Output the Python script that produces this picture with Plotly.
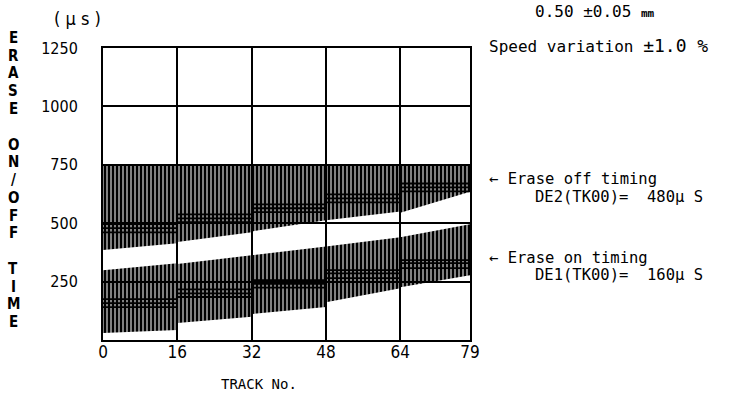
import plotly.graph_objects as go

# ---- data ----
track_ticks = [0, 16, 32, 48, 64, 79]
y_ticks = [250, 500, 750, 1000, 1250]
zone_start = [0, 16, 32, 48, 64]
zone_end = [16, 32, 48, 64, 79]

# Erase-off timing band (upper hatched region), µs
off_top_start = [750, 750, 750, 750, 750]
off_top_end = [750, 750, 750, 750, 750]
off_bot_start = [385, 419, 465, 513, 545]
off_bot_end = [414, 461, 513, 550, 635]
off_hi = [496, 538, 581, 623, 670]
off_mid = [479, 521, 564, 606, 653]
off_lo = [461, 504, 547, 589, 636]

# Erase-on timing band (lower hatched region), µs
on_top_start = [299, 325, 363, 400, 440]
on_top_end = [329, 363, 400, 440, 495]
on_bot_start = [30, 73, 111, 162, 226]
on_bot_end = [43, 100, 141, 222, 277]
on_hi = [175, 217, 256, 299, 342]
on_mid = [158, 200, 240, 285, 329]
on_lo = [141, 184, 224, 265, 308]

axis_letters = ["E", "R", "A", "S", "E", "", "O", "N", "/", "O", "F", "F", "", "T", "I", "M", "E"]

NARROW = "Liberation Sans Narrow, DejaVu Sans Condensed, Arial Narrow, sans-serif"
MONO = "DejaVu Sans Mono, Liberation Mono, monospace"

W, H = 737, 396
L, R, T, B = 103, 470, 48, 340


def px(x):
    return (x - L) / (R - L)


def py(y):
    return (B - y) / (B - T)


def polygons(s, e, ts, te, bs, be):
    xs, ys = [], []
    for a, b, t1, t2, b1, b2 in zip(s, e, ts, te, bs, be):
        xs += [a, b, b, a, a, None]
        ys += [t1, t2, b2, b1, t1, None]
    return xs, ys


def segments(s, e, v):
    xs, ys = [], []
    for a, b, c in zip(s, e, v):
        xs += [a, b, None]
        ys += [c, c, None]
    return xs, ys


fig = go.Figure()

hatch = dict(shape="|", size=4, solidity=0.75, fgcolor="black", fgopacity=1,
             bgcolor="rgba(0,0,0,0)")

for ts, te, bs, be in [(off_top_start, off_top_end, off_bot_start, off_bot_end),
                       (on_top_start, on_top_end, on_bot_start, on_bot_end)]:
    xs, ys = polygons(zone_start, zone_end, ts, te, bs, be)
    fig.add_trace(go.Scatter(x=xs, y=ys, mode="lines", fill="toself",
                             fillcolor="rgba(0,0,0,0)", fillpattern=hatch,
                             line=dict(width=0, color="black"),
                             hoverinfo="skip", showlegend=False))

for series in [off_hi, off_mid, off_lo, on_hi, on_mid, on_lo]:
    xs, ys = segments(zone_start, zone_end, series)
    fig.add_trace(go.Scatter(x=xs, y=ys, mode="lines",
                             line=dict(width=1.8, color="black"),
                             hoverinfo="skip", showlegend=False))

fig.update_xaxes(range=[0, 79], tickvals=track_ticks, ticktext=[str(t) for t in track_ticks],
                 showgrid=True, gridcolor="black", gridwidth=1.6,
                 showline=True, linecolor="black", linewidth=2, mirror=True,
                 ticks="", zeroline=False, ticklabelstandoff=-4,
                 tickfont=dict(family=NARROW, size=17, color="black"))
fig.update_yaxes(range=[0, 1250], tickvals=y_ticks, ticktext=[str(t) for t in y_ticks],
                 showgrid=True, gridcolor="black", gridwidth=1.6,
                 showline=True, linecolor="black", linewidth=2, mirror=True,
                 ticks="", zeroline=False, ticklabelstandoff=20,
                 tickfont=dict(family=NARROW, size=16, color="black"))

ann = []


def add(text, x, y, size=16, family=MONO, xanchor="left"):
    ann.append(dict(text=text, x=px(x), y=py(y), xref="paper", yref="paper",
                    xanchor=xanchor, yanchor="middle", showarrow=False,
                    font=dict(family=family, size=size, color="black")))


add("( μ s )", 77, 19, size=18, family=NARROW, xanchor="center")
for i, ch in enumerate(axis_letters):
    if ch:
        add("<b>" + ch + "</b>", 13, 38 + i * 17.75, size=15, family=NARROW, xanchor="center")

add("0.50 ±0.05 <span style='font-size:11px'><b>mm</b></span>", 533, 12, size=16)
add("Speed variation <span style='font-size:18px'>±1.0 %</span>", 487, 46, size=16)
add("← Erase off timing", 487, 179, size=15.5)
add("DE2(TK00)=  480μ S", 533, 197, size=15.5)
add("← Erase on timing", 487, 258, size=15.5)
add("DE1(TK00)=  160μ S", 533, 275, size=15.5)
add("TRACK No.", 259, 384, size=14, xanchor="center")

fig.update_layout(width=W, height=H, margin=dict(l=L, r=W - R, t=T, b=H - B),
                  paper_bgcolor="white", plot_bgcolor="white",
                  annotations=ann, showlegend=False)

fig.write_html("out.html", config={"displayModeBar": False},
               post_script="document.body.style.margin='0';")
